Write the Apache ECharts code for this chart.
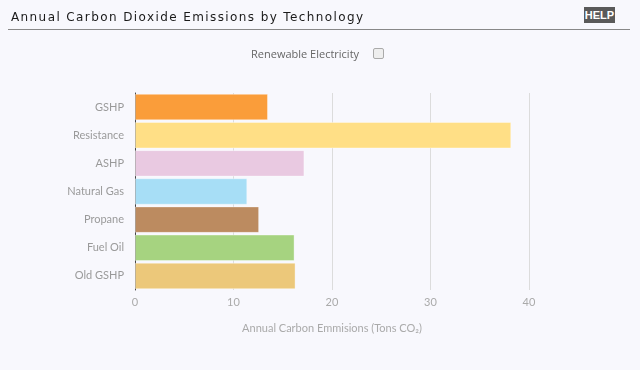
<!DOCTYPE html>
<html><head><meta charset="utf-8">
<script src="https://cdn.jsdelivr.net/npm/echarts@6/dist/echarts.min.js"></script>
<style>
html,body{margin:0;padding:0;background:#f8f8fd;width:640px;height:370px;overflow:hidden;}
#hdr{position:absolute;left:11px;top:10px;font-family:"DejaVu Sans",sans-serif;font-size:12px;letter-spacing:1.4px;color:#1a1a1a;}
#rule{position:absolute;left:8px;top:29px;width:622px;height:1px;background:#888;}
#help{position:absolute;left:584px;top:7px;width:31px;height:16px;background:#5a5a5a;color:#fff;font-family:"Liberation Sans",Arial,sans-serif;font-size:11px;font-weight:bold;line-height:16px;text-align:center;}
#ren{position:absolute;left:251px;top:46px;font-family:"Open Sans",sans-serif;font-size:11px;color:#666;}
#cb{position:absolute;left:373px;top:48px;width:9px;height:9px;border:1px solid #aaa;border-radius:2px;background:#eee;}
#chart{position:absolute;left:0;top:0;width:640px;height:370px;}
</style></head>
<body>
<div id="chart"></div>
<div id="hdr">Annual Carbon Dioxide Emissions by Technology</div>
<div id="rule"></div>
<div id="help">HELP</div>
<div id="ren">Renewable Electricity</div>
<div id="cb"></div>
<script>
const categories = ["GSHP","Resistance","ASHP","Natural Gas","Propane","Fuel Oil","Old GSHP"];
const emissions = [13.5, 38.2, 17.2, 11.4, 12.6, 16.2, 16.3];
const colors = ["#fa9d3a","#ffdf86","#e9c9e1","#a7def6","#bc8b60","#a6d380","#ecc87a"];
const xTicks = [0,10,20,30,40];

const chart = echarts.init(document.getElementById('chart'), null, {renderer:'canvas'});
chart.setOption({
  backgroundColor: 'transparent',
  animation: false,
  grid: {left:135, right:111, top:93, bottom:80},
  xAxis: {
    type:'value', min:xTicks[0], max:xTicks[xTicks.length-1], interval:10,
    axisLine:{show:false},
    axisTick:{show:false},
    splitLine:{show:true, lineStyle:{color:'#dcdcdc', width:1}},
    axisLabel:{color:'#aaa', fontFamily:'Lato', fontSize:11, margin:7},
    name:'Annual Carbon Emmisions (Tons CO₂)',
    nameLocation:'middle', nameGap:33,
    nameTextStyle:{color:'#aaa', fontFamily:'Lato', fontSize:11}
  },
  yAxis: {
    type:'category', data:categories, inverse:true,
    axisLine:{show:true, lineStyle:{color:'#444', width:1}},
    axisTick:{show:false},
    axisLabel:{color:'#9a9a9a', fontFamily:'Lato', fontSize:11, margin:11}
  },
  series: [{
    type:'bar',
    data: emissions.map((v,i)=>({value:v, itemStyle:{color:colors[i]}})),
    barCategoryGap:'6%',
    itemStyle:{borderColor:'rgba(255,255,255,0.35)', borderWidth:1}
  }]
});
</script>
</body></html>
